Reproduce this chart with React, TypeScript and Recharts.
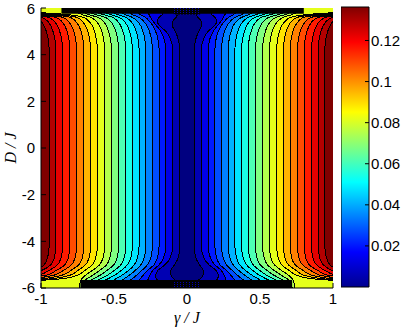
import React from "react";
import { ComposedChart, Area, XAxis, YAxis, ReferenceArea, BarChart, Bar } from "recharts";

const D_ROWS = [-6.0, -5.85, -5.72, -5.6, -5.45, -5.25, -5.0, -4.7, -4.2, 4.2, 4.7, 5.0, 5.25, 5.45, 5.6, 5.72, 5.85, 6.0];

// contour boundaries (gamma/J, right half; left half is the mirror), one value per D_ROWS entry
// b1 is the innermost (lowest level), b20 the outermost
const CONTOURS = [
  [0.06, 0.06, 0.07, 0.09, 0.11, 0.11, 0.085, 0.06, 0.049, 0.049, 0.062, 0.08, 0.10, 0.095, 0.075, 0.065, 0.06, 0.06],
  [0.15, 0.17, 0.19, 0.21, 0.215, 0.20, 0.15, 0.115, 0.098, 0.098, 0.115, 0.145, 0.19, 0.205, 0.19, 0.17, 0.16, 0.15],
  [0.27, 0.27, 0.27, 0.265, 0.255, 0.235, 0.19, 0.16, 0.145, 0.145, 0.158, 0.18, 0.21, 0.235, 0.25, 0.26, 0.27, 0.27],
  [0.36, 0.35, 0.34, 0.32, 0.30, 0.27, 0.225, 0.203, 0.191, 0.191, 0.20, 0.215, 0.235, 0.26, 0.285, 0.32, 0.34, 0.35],
  [0.43, 0.42, 0.40, 0.375, 0.345, 0.31, 0.27, 0.248, 0.237, 0.237, 0.245, 0.258, 0.275, 0.30, 0.33, 0.375, 0.40, 0.42],
  [0.49, 0.48, 0.46, 0.43, 0.395, 0.355, 0.315, 0.293, 0.282, 0.282, 0.29, 0.302, 0.318, 0.343, 0.375, 0.425, 0.46, 0.48],
  [0.55, 0.54, 0.52, 0.485, 0.445, 0.40, 0.36, 0.339, 0.328, 0.328, 0.336, 0.348, 0.364, 0.388, 0.42, 0.475, 0.52, 0.54],
  [0.60, 0.59, 0.575, 0.54, 0.495, 0.45, 0.407, 0.385, 0.374, 0.374, 0.382, 0.394, 0.41, 0.433, 0.465, 0.525, 0.575, 0.60],
  [0.65, 0.64, 0.625, 0.59, 0.545, 0.498, 0.452, 0.43, 0.419, 0.419, 0.427, 0.439, 0.455, 0.478, 0.51, 0.575, 0.63, 0.65],
  [0.69, 0.68, 0.67, 0.64, 0.595, 0.548, 0.501, 0.479, 0.468, 0.468, 0.476, 0.488, 0.504, 0.527, 0.56, 0.625, 0.68, 0.70],
  [0.72, 0.715, 0.705, 0.685, 0.645, 0.598, 0.55, 0.528, 0.517, 0.517, 0.525, 0.537, 0.553, 0.577, 0.61, 0.675, 0.72, 0.74],
  [0.74, 0.735, 0.73, 0.72, 0.695, 0.648, 0.598, 0.575, 0.564, 0.564, 0.572, 0.584, 0.60, 0.625, 0.66, 0.72, 0.76, 0.78],
  [1.2, 1.2, 1.1, 0.85, 0.75, 0.70, 0.648, 0.625, 0.614, 0.614, 0.622, 0.634, 0.65, 0.675, 0.71, 0.82, 1.1, 1.2],
  [1.2, 1.2, 1.15, 0.92, 0.80, 0.748, 0.694, 0.671, 0.66, 0.66, 0.668, 0.68, 0.696, 0.72, 0.755, 0.88, 1.15, 1.2],
  [1.2, 1.2, 1.2, 0.98, 0.855, 0.796, 0.74, 0.717, 0.706, 0.706, 0.714, 0.726, 0.742, 0.766, 0.80, 0.94, 1.2, 1.2],
  [1.2, 1.2, 1.2, 1.05, 0.91, 0.848, 0.79, 0.767, 0.756, 0.756, 0.764, 0.776, 0.792, 0.816, 0.85, 1.0, 1.2, 1.2],
  [1.2, 1.2, 1.2, 1.12, 0.965, 0.896, 0.836, 0.813, 0.802, 0.802, 0.81, 0.822, 0.838, 0.862, 0.90, 1.06, 1.2, 1.2],
  [1.2, 1.2, 1.2, 1.2, 1.02, 0.946, 0.886, 0.863, 0.852, 0.852, 0.86, 0.872, 0.888, 0.912, 0.95, 1.12, 1.2, 1.2],
  [1.2, 1.2, 1.2, 1.2, 1.08, 0.995, 0.932, 0.909, 0.898, 0.898, 0.906, 0.918, 0.934, 0.958, 1.0, 1.18, 1.2, 1.2],
  [1.2, 1.2, 1.2, 1.2, 1.14, 1.045, 0.978, 0.955, 0.944, 0.944, 0.952, 0.964, 0.98, 1.005, 1.05, 1.2, 1.2, 1.2],
];

// dense-contour strips at the top and bottom edges: [gammaFrom, gammaTo, Dfrom, Dto]
const TOP_STRIP = [-0.86, 0.8, 5.75, 6];
const BOTTOM_STRIP = [-0.73, 0.72, -6, -5.66];
const TOP_SPECKLE = [-0.09, 0.09, 5.72, 6];
const BOTTOM_SPECKLE = [-0.09, 0.09, -6, -5.7];

const X_TICKS = [-1, -0.5, 0, 0.5, 1];
const Y_TICKS = [-6, -4, -2, 0, 2, 4, 6];
const CBAR_MAX = 0.1363;
const CBAR_TICKS = [0.02, 0.04, 0.06, 0.08, 0.1, 0.12];

const N_BANDS = CONTOURS.length;

const clamp = (v: number) => Math.max(0, Math.min(1, v));
const jet = (t: number) => {
  const r = clamp(1.5 - Math.abs(4 * t - 3));
  const g = clamp(1.5 - Math.abs(4 * t - 2));
  const b = clamp(1.5 - Math.abs(4 * t - 1));
  const h = (v: number) => Math.round(v * 255).toString(16).padStart(2, "0");
  return `#${h(r)}${h(g)}${h(b)}`;
};

const rows = D_ROWS.map((D, i) => {
  const row: any = { D, edge: [-1.2, 1.2] };
  CONTOURS.forEach((c, k) => {
    row[`b${k + 1}`] = [-c[i], c[i]];
  });
  return row;
});

const font = "'Liberation Sans', Arial, sans-serif";
const tickStyle = { fill: "#000", fontSize: 15, fontFamily: font };

const YLabel = ({ viewBox }: any) => {
  const cx = 16;
  const cy = viewBox.y + viewBox.height / 2;
  return (
    <text x={cx} y={cy} transform={`rotate(-90 ${cx} ${cy})`} textAnchor="middle" fontFamily="'Liberation Serif', serif" fontStyle="italic" fontSize={16} fill="#000">
      D / J
    </text>
  );
};

const XLabel = ({ viewBox }: any) => (
  <text x={viewBox.x + viewBox.width / 2} y={323} textAnchor="middle" fontFamily="'Liberation Serif', serif" fontStyle="italic" fontSize={16} fill="#000">
    γ / J
  </text>
);

const noTick = () => <g />;

export default function App() {
  const bands = [];
  for (let k = N_BANDS; k >= 1; k--) {
    bands.push(
      <Area
        key={k}
        dataKey={`b${k}`}
        type="monotone"
        fill={jet((k - 1) / N_BANDS)}
        fillOpacity={1}
        stroke="#000"
        strokeWidth={1}
        shapeRendering="crispEdges"
        dot={false}
        activeDot={false}
        isAnimationActive={false}
      />
    );
  }

  return (
    <div style={{ position: "absolute", left: 0, top: 0, width: 406, height: 334, background: "#fff" }}>
      <ComposedChart
        layout="vertical"
        width={406}
        height={334}
        data={rows}
        margin={{ top: 8, right: 73, bottom: 0, left: 0 }}
      >
        <defs>
          <pattern id="speck" width="3" height="2" patternUnits="userSpaceOnUse">
            <rect width="3" height="2" fill="#000" />
            <rect width="1" height="1" fill="#0000b0" />
          </pattern>
        </defs>
        <XAxis
          type="number"
          domain={[-1, 1]}
          ticks={X_TICKS}
          allowDataOverflow
          height={46}
          tickSize={-5}
          tickMargin={10}
          tick={tickStyle}
          stroke="#000"
          label={<XLabel />}
        />
        <XAxis xAxisId="top" orientation="top" type="number" domain={[-1, 1]} ticks={X_TICKS} allowDataOverflow height={0} tickSize={-5} tick={noTick} stroke="#000" />
        <YAxis
          type="number"
          dataKey="D"
          domain={[-6, 6]}
          ticks={Y_TICKS}
          reversed
          allowDataOverflow
          width={41}
          tickSize={-5}
          tickMargin={11}
          tick={tickStyle}
          stroke="#000"
          label={<YLabel />}
        />
        <YAxis yAxisId="right" orientation="right" type="number" dataKey="D" domain={[-6, 6]} ticks={Y_TICKS} reversed allowDataOverflow width={0} tickSize={-5} tick={noTick} stroke="#000" />
        <Area dataKey="edge" fill={jet(1)} fillOpacity={1} stroke="none" dot={false} activeDot={false} isAnimationActive={false} />
        {bands}
        {[TOP_STRIP, BOTTOM_STRIP].map((s, i) => (
          <ReferenceArea key={`s${i}`} x1={s[0]} x2={s[1]} y1={s[2]} y2={s[3]} fill="#000" fillOpacity={1} stroke="none" ifOverflow="hidden" />
        ))}
        {[TOP_SPECKLE, BOTTOM_SPECKLE].map((s, i) => (
          <ReferenceArea key={`p${i}`} x1={s[0]} x2={s[1]} y1={s[2]} y2={s[3]} fill="url(#speck)" fillOpacity={1} stroke="none" ifOverflow="hidden" />
        ))}
      </ComposedChart>

      <div style={{ position: "absolute", left: 341, top: 0 }}>
        <BarChart
          width={65}
          height={334}
          data={[{ name: "c", v: CBAR_MAX }]}
          margin={{ top: 7, right: 0, bottom: 47, left: 0 }}
          barCategoryGap={0}
        >
          <defs>
            <linearGradient id="jetGrad" x1="0" y1="1" x2="0" y2="0">
              <stop offset="0" stopColor="#00008f" />
              <stop offset="0.125" stopColor="#0000ff" />
              <stop offset="0.375" stopColor="#00ffff" />
              <stop offset="0.625" stopColor="#ffff00" />
              <stop offset="0.875" stopColor="#ff0000" />
              <stop offset="1" stopColor="#800000" />
            </linearGradient>
          </defs>
          <XAxis dataKey="name" hide />
          <YAxis
            orientation="right"
            type="number"
            domain={[0, CBAR_MAX]}
            ticks={CBAR_TICKS}
            width={37}
            tickSize={-4}
            tickMargin={6}
            axisLine={false}
            tick={{ ...tickStyle, textAnchor: "start" }}
            stroke="#000"
          />
          <Bar dataKey="v" fill="url(#jetGrad)" stroke="#000" strokeWidth={1} isAnimationActive={false} />
        </BarChart>
      </div>
    </div>
  );
}
